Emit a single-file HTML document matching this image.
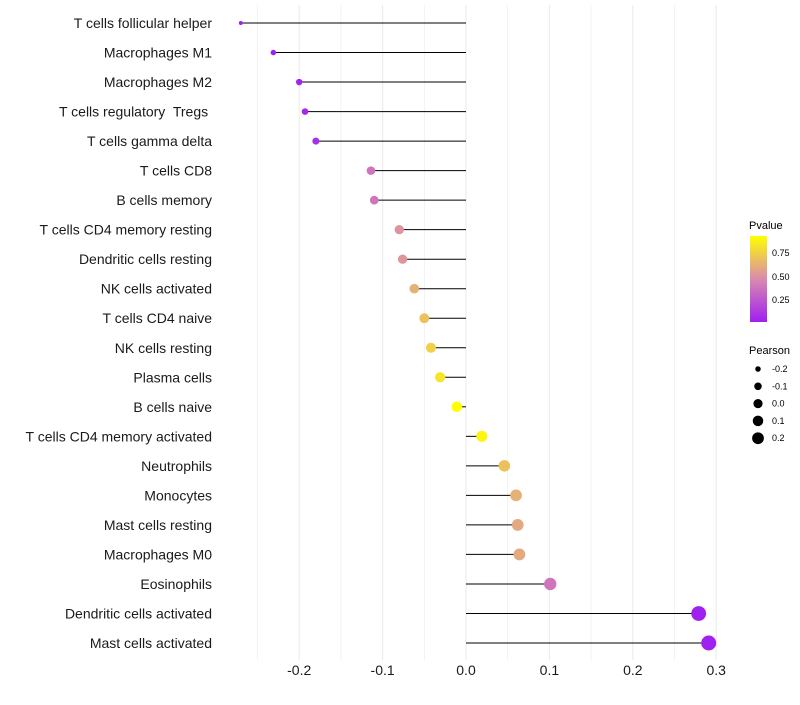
<!DOCTYPE html>
<html><head><meta charset="utf-8"><style>
body{margin:0;background:#fff;font-family:"Liberation Sans",sans-serif}
svg text{font-family:"Liberation Sans",sans-serif;white-space:pre}
</style></head><body>
<svg id="chart" width="800" height="700">
<defs><linearGradient id="pg" x1="0" y1="1" x2="0" y2="0">
<stop offset="0" stop-color="#a020f0"/><stop offset="0.5" stop-color="#d98aae"/><stop offset="1" stop-color="#ffff00"/></linearGradient></defs>
<g id="grid"></g>
<g id="marks"></g>
<g id="ylabels"></g>
<g id="xlabels"></g>
<g>
<text x="749" y="229" font-size="11">Pvalue</text>
<rect x="750" y="236" width="17" height="86" fill="url(#pg)"/>
<text x="772" y="256" font-size="9">0.75</text>
<text x="772" y="280" font-size="9">0.50</text>
<text x="772" y="303" font-size="9">0.25</text>
</g>
<g id="sizeleg">
<text x="749" y="354" font-size="11">Pearson</text>
</g>
</svg>
<script>
const categories=["T cells follicular helper","Macrophages M1","Macrophages M2","T cells regulatory  Tregs ","T cells gamma delta","T cells CD8","B cells memory","T cells CD4 memory resting","Dendritic cells resting","NK cells activated","T cells CD4 naive","NK cells resting","Plasma cells","B cells naive","T cells CD4 memory activated","Neutrophils","Monocytes","Mast cells resting","Macrophages M0","Eosinophils","Dendritic cells activated","Mast cells activated"];
const pearson=[-0.270,-0.231,-0.200,-0.193,-0.180,-0.114,-0.110,-0.080,-0.076,-0.062,-0.050,-0.042,-0.031,-0.011,0.019,0.046,0.060,0.062,0.064,0.101,0.279,0.291];
const pvalue=[0.02,0.05,0.08,0.1,0.12,0.42,0.42,0.55,0.56,0.66,0.72,0.78,0.86,0.96,0.92,0.72,0.66,0.63,0.63,0.42,0.04,0.02];
const xTicks=[-0.2,-0.1,0.0,0.1,0.2,0.3];
const xTickLabels=["-0.2","-0.1","0.0","0.1","0.2","0.3"];
const sizeLegend=[-0.2,-0.1,0.0,0.1,0.2];
const NS="http://www.w3.org/2000/svg";
const x=v=>466+v*834;
const y=i=>23+i*(620/(categories.length-1));
const r=v=>Math.sqrt(Math.max(1,29+93*v));
function lerp(a,b,t){return a.map((c,k)=>Math.round(c+(b[k]-c)*t));}
function col(p){const lo=[160,32,240],mid=[217,138,174],hi=[255,255,0];
 const t=Math.max(0,Math.min(1,(p-0.06)/0.9));
 const c=t<0.5?lerp(lo,mid,t*2):lerp(mid,hi,(t-0.5)*2);return `rgb(${c})`;}
function mk(tag,attrs,parent){const e=document.createElementNS(NS,tag);for(const k in attrs)e.setAttribute(k,attrs[k]);document.getElementById(parent).appendChild(e);return e;}
for(let v=-0.25;v<=0.301;v+=0.05){
 const g=mk('line',{x1:x(v),x2:x(v),y1:5,y2:660,stroke:'#ebebeb','stroke-width':Math.abs(Math.round(v*20)%2)===1?0.6:1.1},'grid');
 
 
}
categories.forEach((c,i)=>{
 const l=mk('line',{x1:x(0),x2:x(pearson[i]),y1:y(i),y2:y(i),stroke:'#000','stroke-width':1},'marks');
 
 
 const d=mk('circle',{cx:x(pearson[i]),cy:y(i),r:r(pearson[i]),fill:col(pvalue[i])},'marks');
 
 
 const t=mk('text',{x:212,y:y(i)+5,'font-size':14,'text-anchor':'end',fill:'#1a1a1a'},'ylabels');
 t.textContent=c;
 
 
});
xTicks.forEach((v,i)=>{
 const t=mk('text',{x:x(v),y:675,'font-size':14,'text-anchor':'middle',fill:'#1a1a1a'},'xlabels');
 t.textContent=xTickLabels[i];
 
 
});
sizeLegend.forEach((v,i)=>{
 const cy=369+i*17.3;
 const c=mk('circle',{cx:758,cy:cy,r:r(v)*0.85,fill:'#000'},'sizeleg');
 
 
 const t=mk('text',{x:772,y:cy+3,'font-size':9},'sizeleg');
 t.textContent=v.toFixed(1);
 
 
});
</script>
</body></html>
